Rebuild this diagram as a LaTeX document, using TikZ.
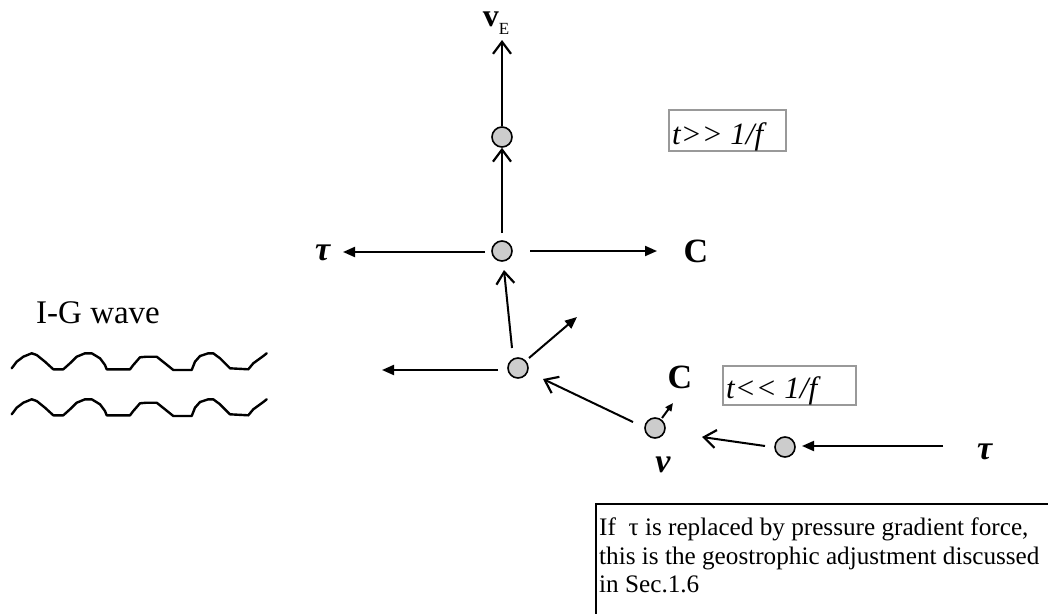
\documentclass[tikz,border=0pt]{standalone}
\usepackage{fontspec}
\setmainfont{Liberation Serif}
\usetikzlibrary{arrows.meta}
\begin{document}
\begin{tikzpicture}[x=1pt,y=-1pt,
  dot/.style={circle,draw=black,line width=1.6pt,fill=black!20,minimum size=20pt,inner sep=0pt},
  conn/.style={line width=2pt},
  openarr/.style={conn,-{Straight Barb[length=12pt,width=18pt,line width=2.2pt]}},
  fillarr/.style={conn,-{Triangle[length=12pt,width=10pt]}},
  smallarr/.style={conn,-{Triangle[length=8pt,width=7pt]}},
  lbl/.style={inner sep=0pt,font=\fontsize{34}{38}\selectfont},
  gbox/.style={draw=black!40,line width=2pt},
  boxtxt/.style={anchor=base west,inner sep=0pt,font=\fontsize{31}{36}\selectfont\itshape},
  note/.style={anchor=base west,inner sep=0pt,font=\fontsize{25.2}{29}\selectfont},
  wave/.style={line width=2.4pt,line join=round,line cap=round}]
\useasboundingbox (0,0) rectangle (1048,613);
\clip (0,0) rectangle (1048,613);
% circles
\node[dot] (n1) at (502,137) {};
\node[dot] (n2) at (502,251) {};
\node[dot] (n3) at (518,368) {};
\node[dot] (n4) at (655,428) {};
\node[dot] (n5) at (785,447) {};
% labels
\node[lbl,anchor=base,font=\fontsize{32}{34}\selectfont] (vE) at (496,27) {\textbf{v}\raisebox{-0.22em}{\fontsize{17}{17}\selectfont E}};
\node[lbl] (tauL) at (323,253) {\textbf{\textit{τ}}};
\node[lbl] (CR) at (696,251) {\textbf{C}};
\node[lbl] (CS) at (680,377) {\textbf{C}};
\node[lbl] (tauR) at (985,452) {\textbf{\textit{τ}}};
\node[lbl] (nu) at (663,465) {\textbf{\textit{ν}}};
\node[lbl,anchor=base west,font=\fontsize{33}{36}\selectfont] (IG) at (36,323) {I-G wave};
% free ends
\coordinate (vEtip) at (502,40);
\coordinate (tLs) at (485,252);
\coordinate (tLtip) at (343,252);
\coordinate (CRs) at (530,251);
\coordinate (CRtip) at (657,251);
\coordinate (n3up) at (512,348);
\coordinate (n2tip) at (504,270);
\coordinate (n3rs) at (529,358);
\coordinate (n3rtip) at (577,317);
\coordinate (n3ls) at (498,370);
\coordinate (n3ltip) at (382,370);
\coordinate (n4s) at (633,422);
\coordinate (n3tip) at (543,379);
\coordinate (n4cs) at (662,418);
\coordinate (n4ctip) at (673,403);
\coordinate (n5s) at (765,446);
\coordinate (n4tip) at (702,437);
\coordinate (tRs) at (943,446);
\coordinate (n5tip) at (802,446);
% connectors
\draw[openarr] (n1.north) -- (vEtip);
\draw[openarr,shorten <=7pt] (n2.north) -- (n1.south);
\draw[fillarr] (tLs) -- (tLtip);
\draw[fillarr] (CRs) -- (CRtip);
\draw[openarr] (n3up) -- (n2tip);
\draw[fillarr] (n3rs) -- (n3rtip);
\draw[fillarr] (n3ls) -- (n3ltip);
\draw[openarr] (n4s) -- (n3tip);
\draw[smallarr] (n4cs) -- (n4ctip);
\draw[openarr] (n5s) -- (n4tip);
\draw[fillarr] (tRs) -- (n5tip);
% time boxes
\draw[gbox] (669,110) rectangle (786,151);
\node[boxtxt] (tb1) at (672,144) {t>{}> 1/f};
\draw[gbox] (723,366) rectangle (856,405);
\node[boxtxt] (tb2) at (726,398) {t<{}< 1/f};
% waves
\foreach \dy in {0,46}{
\draw[wave,yshift=-\dy pt] plot coordinates {(11.7,368.3) (16.7,361.7) (23.3,356.7) (31.7,353.3) (36.7,355) (45,361.7) (53.3,369.3) (63.3,369.3) (70,363.3) (76.7,356.7) (85,353.3) (91.7,353.3) (100,358.3) (105,365) (106.7,369.3) (130,369.3) (133.3,365) (140,357.3) (146.7,356.7) (156.7,356.7) (165,363.3) (173.3,370) (191.7,370) (195,361.7) (200,356) (208.3,353.3) (213.3,353.3) (220,358.3) (230,368.3) (248.3,369.3) (253.3,363.3) (263.3,356) (266.7,353.3)};
}
% note box
\draw[line width=2.5pt] (596,630) -- (596,504) -- (1070,504);
\node[note] (l1) at (599,535) {If~~τ is replaced by pressure gradient force,};
\node[note] (l2) at (599,564) {this is the geostrophic adjustment discussed};
\node[note] (l3) at (599,592) {in Sec.1.6};
\end{tikzpicture}
\end{document}
